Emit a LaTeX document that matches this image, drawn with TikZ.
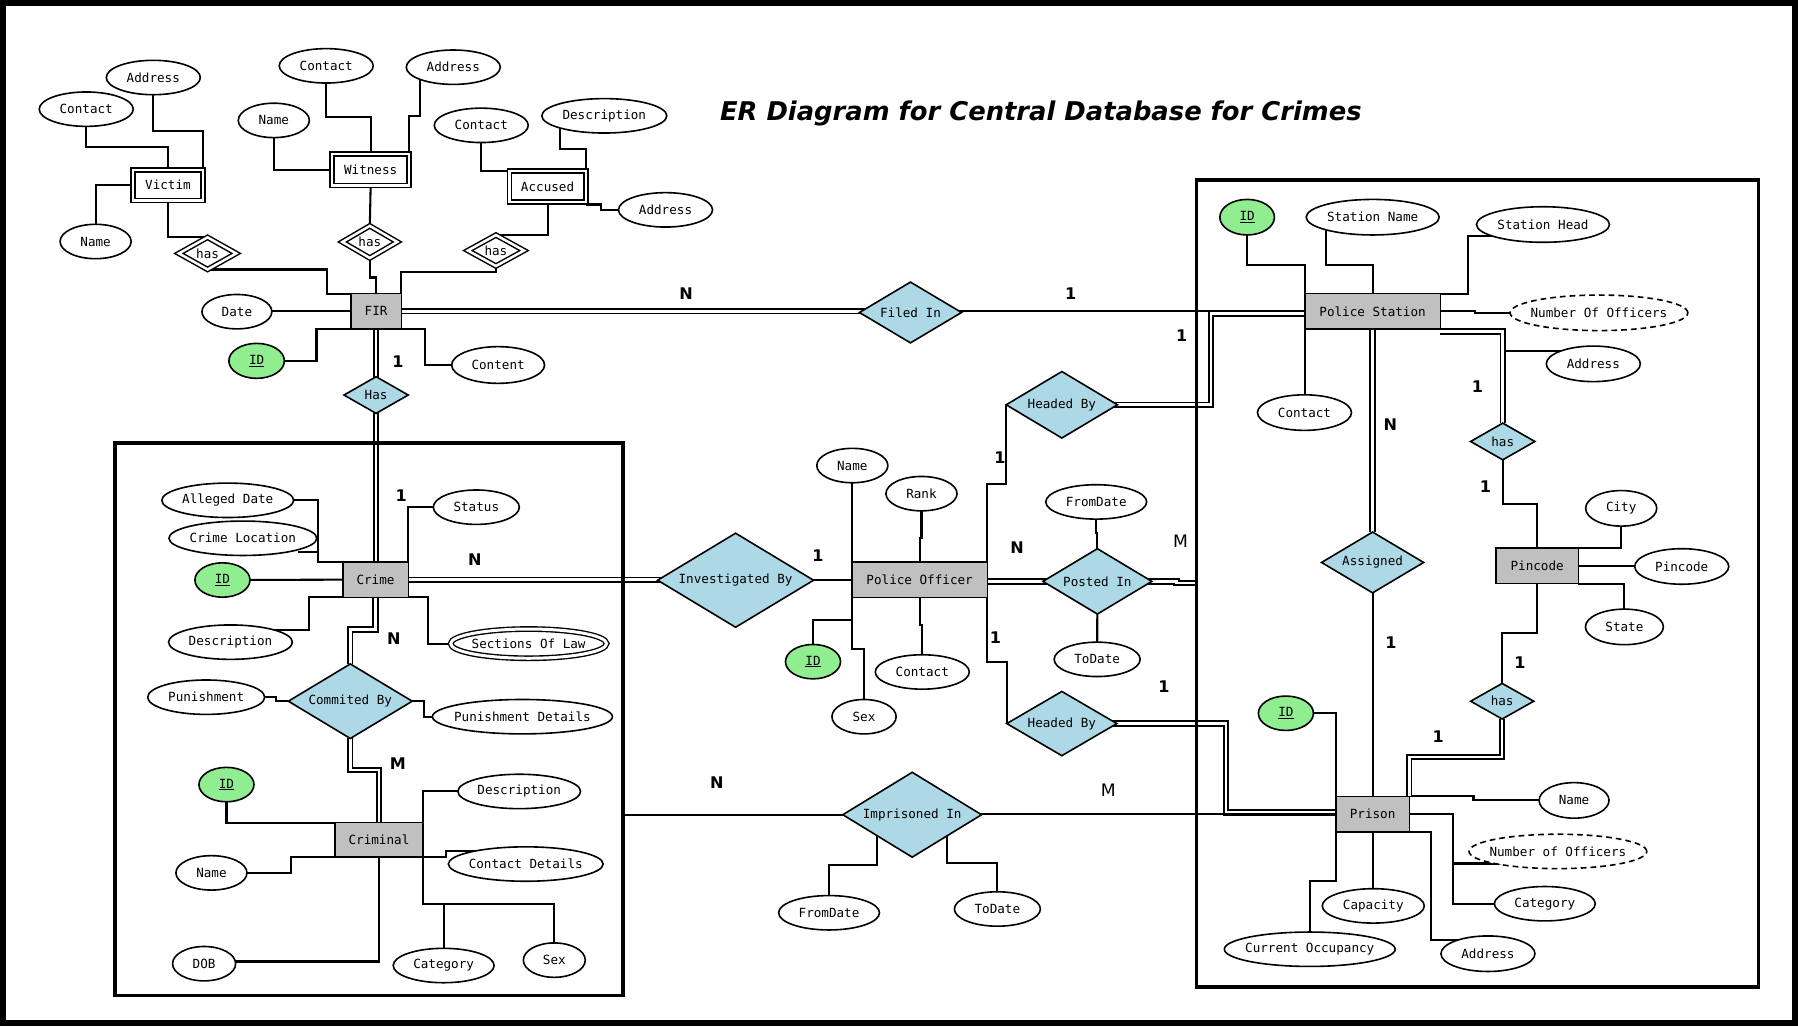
\documentclass[tikz,border=0pt]{standalone}
\usepackage{fontspec}
\setmainfont{DejaVu Sans}
\setsansfont{DejaVu Sans}
\setmonofont{DejaVu Sans Mono}
\usetikzlibrary{shapes.geometric,calc}
\pgfdeclarelayer{background}
\pgfsetlayers{background,main}
\definecolor{relblue}{HTML}{ADD8E6}
\definecolor{keygreen}{HTML}{90EE90}
\definecolor{entgray}{HTML}{C0C0C0}
\newcommand\T[1]{\makebox[0pt]{#1}}
\begin{document}
\begin{tikzpicture}[x=1pt,y=-1pt,
  every node/.style={inner sep=0pt, outer sep=0pt, font=\ttfamily\fontsize{11}{13}\selectfont},
  mw/.style={minimum width=#1pt},
  mh/.style={minimum height=#1pt},
  attr/.style={ellipse, draw, line width=1.4pt, fill=white, minimum height=30pt},
  keyattr/.style={attr, fill=keygreen},
  derattr/.style={attr, dash pattern=on 5pt off 3.5pt},
  multiattr/.style={attr, double, double distance=2.6pt, line width=1.2pt},
  ent/.style={rectangle, draw, line width=1.2pt, fill=entgray, minimum height=31pt},
  weakent/.style={rectangle, draw, double, fill=white, line width=1.3pt, double distance=2.2pt},
  rel/.style={diamond, draw, line width=1.4pt, fill=relblue},
  weakrel/.style={diamond, draw, double, fill=white, line width=1.3pt, double distance=2.2pt},
  card/.style={font=\sffamily\bfseries\fontsize{14}{16}\selectfont},
  cardm/.style={font=\sffamily\fontsize{15}{17}\selectfont},
  area/.style={rectangle, draw, line width=3.2pt},
  conn/.style={line width=1.8pt},
  dbl/.style={double, line width=1.6pt, double distance=2.3pt},
]
\useasboundingbox (0,0) rectangle (1568,895);
\begin{pgfonlayer}{background}
\fill[white] (0,0) rectangle (1568,895);
\end{pgfonlayer}
\draw[line width=5.5pt] (2.75,2.75) rectangle (1565.25,892.25);

% title
\node[font=\bfseries\itshape\fontsize{22.5}{26}\selectfont, anchor=base] (title) at (907.7,105) {ER Diagram for Central Database for Crimes};

% containers
\node[area, mw=443.5, mh=481.5] (crimearea) at (321.75,627.25) {};
\node[area, mw=490, mh=704] (psarea) at (1288.5,509) {};

% entities
\node[ent, mw=44] (fir) at (328,271.5) {FIR};
\node[ent, mw=57] (crime) at (327.5,505.5) {Crime};
\node[ent, mw=77, mh=30] (criminal) at (330.5,732.5) {Criminal};
\node[ent, mw=118] (po) at (802,505.5) {Police Officer};
\node[ent, mw=118] (ps) at (1197,271.5) {Police Station};
\node[ent, mw=72] (pincode) at (1340.5,493.5) {Pincode};
\node[ent, mw=64] (prison) at (1197,710) {Prison};

% weak entities
\node[weakent, mw=60.7, mh=26.7] (victim) at (146.5,161.5) {Victim};
\node[weakent, mw=67.2, mh=27.7] (witness) at (323.25,148) {Witness};
\node[weakent, mw=66.7, mh=27.2] (accused) at (477.5,162.75) {Accused};

% weak relationships
\node[weakrel, mw=50, mh=28] (hasV) at (181,221) {\T{has}};
\node[weakrel, mw=48, mh=28] (hasW) at (322.5,211) {\T{has}};
\node[weakrel, mw=49, mh=27] (hasA) at (432.5,218.5) {\T{has}};

% relationships
\node[rel, mw=56, mh=32] (has1) at (328,344.5) {\T{Has}};
\node[rel, mw=89, mh=53] (filed) at (794,272.5) {\T{Filed In}};
\node[rel, mw=97, mh=58] (hbUp) at (926,353) {\T{Headed By}};
\node[rel, mw=96, mh=56] (hbLo) at (926,631) {\T{Headed By}};
\node[rel, mw=136, mh=82] (invby) at (641.5,506) {\T{Investigated By}};
\node[rel, mw=95, mh=57] (posted) at (957,507) {\T{Posted In}};
\node[rel, mw=121, mh=74] (imprisoned) at (795.5,710.5) {\T{Imprisoned In}};
\node[rel, mw=108, mh=65] (commited) at (305.5,611.5) {\T{Commited By}};
\node[rel, mw=89, mh=53] (assigned) at (1197,490.5) {\T{Assigned}};
\node[rel, mw=56, mh=32] (hasP1) at (1310.5,385) {\T{has}};
\node[rel, mw=55, mh=31] (hasP2) at (1310,611.5) {\T{has}};

% attributes: victim, witness, accused
\node[attr, mw=82] (vAddr) at (133.7,67.6) {\T{Address}};
\node[attr, mw=82] (vContact) at (75.2,95.2) {\T{Contact}};
\node[attr, mw=62] (vName) at (83.4,210.6) {\T{Name}};
\node[attr, mw=82] (wContact) at (284.5,57.4) {\T{Contact}};
\node[attr, mw=82] (wAddr) at (395.3,58.6) {\T{Address}};
\node[attr, mw=62] (wName) at (238.8,105) {\T{Name}};
\node[attr, mw=82] (aContact) at (419.7,109.3) {\T{Contact}};
\node[attr, mw=109] (aDesc) at (527,101) {\T{Description}};
\node[attr, mw=82] (aAddr) at (580.4,183) {\T{Address}};
% FIR
\node[attr, mw=61] (fDate) at (206.6,271.8) {\T{Date}};
\node[keyattr, mw=48.4, mh=30.5] (fID) at (223.8,314.7) {\T{\underline{ID}}};
\node[attr, mw=81, mh=32] (fContent) at (434.4,318.3) {\T{Content}};
% police station
\node[keyattr, mw=47.6, mh=31] (psID) at (1087.6,189.4) {\T{\underline{ID}}};
\node[attr, mw=116, mh=31] (psName) at (1197.1,189.4) {\T{Station Name}};
\node[attr, mw=116, mh=31] (psHead) at (1345.6,195.8) {\T{Station Head}};
\node[derattr, mw=155, mh=31] (psNum) at (1394.4,272.8) {\T{Number Of Officers}};
\node[attr, mw=82, mh=31] (psAddr) at (1389.5,317.3) {\T{Address}};
\node[attr, mw=82, mh=31] (psContact) at (1137.6,359.8) {\T{Contact}};
% pincode
\node[attr, mw=62, mh=31] (city) at (1413.8,443.3) {\T{City}};
\node[attr, mw=82, mh=31] (pinAttr) at (1466.6,494) {\T{Pincode}};
\node[attr, mw=68, mh=31] (state) at (1416.6,546.7) {\T{State}};
% prison
\node[keyattr, mw=48] (prID) at (1121.4,622) {\T{\underline{ID}}};
\node[attr, mw=61, mh=31] (prName) at (1372.7,698) {\T{Name}};
\node[derattr, mw=155] (prNum) at (1358.6,742.5) {\T{Number of Officers}};
\node[attr, mw=88] (prCat) at (1347.2,788.1) {\T{Category}};
\node[attr, mw=82, mh=31] (prAddr) at (1297.6,831.7) {\T{Address}};
\node[attr, mw=89] (prCap) at (1197.6,790) {\T{Capacity}};
\node[attr, mw=149] (prOcc) at (1142.2,827.8) {\T{Current Occupancy}};
% posted in
\node[attr, mw=88] (pFrom) at (956,437.7) {\T{FromDate}};
\node[attr, mw=75] (pTo) at (956.8,575) {\T{ToDate}};
% police officer
\node[attr, mw=62] (poName) at (743.3,406) {\T{Name}};
\node[attr, mw=62] (poRank) at (803.6,430.5) {\T{Rank}};
\node[keyattr, mw=48] (poID) at (709,577) {\T{\underline{ID}}};
\node[attr, mw=56] (poSex) at (753.5,625) {\T{Sex}};
\node[attr, mw=82] (poContact) at (804.3,586) {\T{Contact}};
% imprisoned in
\node[attr, mw=88] (iFrom) at (723,796) {\T{FromDate}};
\node[attr, mw=75] (iTo) at (869.8,792.7) {\T{ToDate}};
% crime
\node[attr, mw=115] (cDate) at (198.6,436.3) {\T{Alleged Date}};
\node[attr, mw=129] (cLoc) at (211.8,469.4) {\T{Crime Location}};
\node[keyattr, mw=48] (cID) at (194,505.8) {\T{\underline{ID}}};
\node[attr, mw=108] (cDesc) at (201,560) {\T{Description}};
\node[attr, mw=75] (cStatus) at (415.4,442.3) {\T{Status}};
\node[multiattr, mw=136, mh=25.5] (cLaw) at (461,561.3) {\T{Sections Of Law}};
\node[attr, mw=102] (cPun) at (179.8,608) {\T{Punishment}};
\node[attr, mw=157] (cPunD) at (455.6,625) {\T{Punishment Details}};
% criminal
\node[keyattr, mw=48] (crID) at (197.5,684.2) {\T{\underline{ID}}};
\node[attr, mw=62] (crName) at (184.4,761.2) {\T{Name}};
\node[attr, mw=55] (crDOB) at (178,840.4) {\T{DOB}};
\node[attr, mw=107] (crDesc) at (452.8,690.2) {\T{Description}};
\node[attr, mw=135] (crCD) at (458.5,753.5) {\T{Contact Details}};
\node[attr, mw=88] (crCat) at (386.9,842) {\T{Category}};
\node[attr, mw=54] (crSex) at (483.4,837.3) {\T{Sex}};

% cardinalities
\node[card] (k1) at (347,315) {1};
\node[card] (k2) at (349.8,432.2) {1};
\node[card] (k3) at (598.4,255.8) {N};
\node[card] (k4) at (933.7,255.8) {1};
\node[card] (k5) at (1030.5,293) {1};
\node[card] (k6) at (872,399) {1};
\node[card] (k7) at (713.3,484.5) {1};
\node[card] (k8) at (414,488) {N};
\node[card] (k9) at (886.9,477.4) {N};
\node[cardm] (k10) at (1029.5,472) {M};
\node[card] (k11) at (868.2,555.9) {1};
\node[card] (k12) at (1015,598.8) {1};
\node[card] (k13) at (625.2,682.7) {N};
\node[cardm] (k14) at (966.5,689.2) {M};
\node[card] (k15) at (343.5,557.3) {N};
\node[card] (k16) at (347,666) {M};
\node[card] (k17) at (1288.4,337.2) {1};
\node[card] (k18) at (1212.5,370.3) {N};
\node[card] (k19) at (1295.5,424) {1};
\node[card] (k20) at (1213,560.2) {1};
\node[card] (k21) at (1325.4,577.5) {1};
\node[card] (k22) at (1254.2,642.4) {1};

\coordinate (jNum) at (1267,753);
\coordinate (jPo) at (743,540.4);

\begin{pgfonlayer}{background}
% ---- single connectors
\draw[conn] (vAddr.center) -- (vAddr.center |- 0,114) -| (victim.north east);
\draw[conn] (vContact.center) -- (vContact.center |- 0,128) -| (victim.north);
\draw[conn] (vName.center) |- (victim.west);
\draw[conn] (victim.south) |- (hasV.north);
\draw[conn] (hasV.south) -| (285,256) -- (fir.north west);
\draw[conn] (wContact.center) -- (wContact.center |- 0,102) -| (witness.north);
\draw[conn] (wAddr.center -| 366,0) -- (366,101) -| (witness.north east);
\draw[conn] (wName.center) |- (witness.west);
\draw[conn] (witness.south) -- (hasW.north);
\draw[conn] (hasW.south) -- (hasW.south |- 0,242) -| (fir.north);
\draw[conn] (aContact.center) |- (accused.north west);
\draw[conn] (aDesc.center -| 488,0) -- (488,130) -| (accused.north east);
\draw[conn] ([yshift=-2pt]accused.south east) -| (524,183) -- (aAddr.center);
\draw[conn] (accused.south) |- (hasA.north);
\draw[conn] (hasA.south) -- (hasA.south |- 0,237) -| (fir.north east);
\draw[conn] (fDate.center |- fir.west) -- (fir.west);
\draw[conn] (fID.center) -| (276,287) -- (fir.south west);
\draw[conn] (fir.south east) -- (371,287) |- (fContent.center);
\draw[conn] (psID.center) -- (psID.center |- 0,231) -| (ps.north west);
\draw[conn] (psName.center -| 1156,0) -- (1156,231) -| (ps.north);
\draw[conn] (psHead.center |- 0,206) -- (1280,206) -- (1280,256) -- (ps.north east);
\draw[conn] (ps.east) -- (1286,271.5) -- (1286,272.8) -- (psNum.center);
\draw[conn] (hasP1.north |- 0,306) -- (psAddr.center |- 0,306);
\draw[conn] (ps.south west) -- (ps.south west |- psContact.center);
\draw[conn] (assigned.south) -- (prison.north);
\draw[conn] (hasP1.south) -- (hasP1.south |- 0,439.5) -| (pincode.north);
\draw[conn] (city.center) |- (pincode.north east);
\draw[conn] (pincode.east) -- (pinAttr.center |- pincode.east);
\draw[conn] (pincode.south east) -| (state.center);
\draw[conn] (pincode.south) -- (pincode.south |- 0,552) -| (hasP2.north);
\draw[conn] (prID.center) -| (prison.north west);
\draw[conn] (prison.north east) -- (1285,694.5) -- (1285,698) -- (prName.center);
\draw[conn] (prison.east) -- (1267,710) -- (1267,788.1) -- (prCat.center);
\draw[conn] (jNum) -- (prNum.center |- jNum);
\draw[conn] (prison.south east) -| (1248,820) -- (prAddr.center |- 0,820);
\draw[conn] (prison.south) -- (prison.south |- prCap.center);
\draw[conn] (prison.south west) -- (prison.south west |- 0,768.5) -| (prOcc.center);
\draw[conn] (imprisoned.center) -- (crimearea.east |- imprisoned.center);
\draw[conn] (imprisoned.center -| 765,0) -- (765,754) -| (iFrom.center);
\draw[conn] (imprisoned.center -| 825.6,0) -- (825.6,752.3) -| (iTo.center);
\draw[conn] (invby.center |- po.west) -- (po.west);
\draw[conn] (poName.center) -- (poName.center |- po.north);
\draw[conn] (poRank.center) -- (poRank.center |- 0,469) -| (po.north);
\draw[conn] (po.south west) -- (jPo) -| (poID.center);
\draw[conn] (jPo) -- (743,565.6) -| (poSex.center);
\draw[conn] (po.south) -- (po.south |- 0,545) -| (poContact.center);
\draw[conn] (po.north east) -- (po.north east |- 0,422.3) -| (hbUp.west);
\draw[conn] (po.south east) -- (po.south east |- 0,577.5) -| (hbLo.west);
\draw[conn] (posted.center) -- (posted.center |- 0,465) -| (pFrom.center);
\draw[conn] (posted.center) -- (pTo.center);
\draw[conn] (cDate.center) -| (277,490) -- (crime.north west);
\draw[conn] ($(cLoc.center)+(48,11.8)$) -- (277,481.2);
\draw[conn] (cID.center) -- (crime.west);
\draw[conn] (cDesc.center -| 240,0) |- (269.5,549) -- (269.5,521) -- (crime.south west);
\draw[conn] (cStatus.center) -| (crime.north east);
\draw[conn] (crime.south east) -| (373,561.3) -- (cLaw.center);
\draw[conn] (cPun.center) -- (240.3,608) -- (240.3,611.5) -- (commited.west);
\draw[conn] (commited.east) -- (370,611.5) -- (370,625) -- (cPunD.center);
\draw[conn] (crID.center) |- (criminal.north west);
\draw[conn] (crName.center) -- (253.6,761.2) -- (253.6,747.5) -- (criminal.south west);
\draw[conn] (crDOB.center |- 0,838.5) -| (criminal.south);
\draw[conn] (crDesc.center) -| (criminal.north east);
\draw[conn] (criminal.south east) -- (389,747.5) -- (389,742) -- (crCD.center |- 0,742);
\draw[conn] (criminal.south east) -- (criminal.south east |- 0,788.3) -| (crSex.center);
\draw[conn] (crCat.center) -- (crCat.center |- 0,788.3);
% ---- double connectors
\draw[dbl] (fir.south) -- (has1.north);
\draw[dbl] (has1.south) -- (has1.south |- crime.north);
\draw[dbl] (fir.east) -- (filed.center |- fir.east);
\draw[dbl] (hbUp.center) -| (1056,273.5) -- (ps.west |- 0,273.5);
\draw[dbl] (hbLo.center) -| (1069,708.5) -- (prison.west |- 0,708.5);
\draw[dbl] (crime.east) -- (invby.center |- crime.east);
\draw[dbl] (po.east |- posted.center) -- (posted.center);
\draw[dbl] (posted.center) -- (1026,507) -- (1026,508.5) -- (psarea.west |- 0,508.5);
\draw[dbl] (crime.south) -- (crime.south |- 0,549) -| (commited.north);
\draw[dbl] (commited.south) -- (commited.south |- 0,671.6) -| (criminal.north);
\draw[dbl] ([yshift=-2pt]ps.south east) -| (hasP1.north);
\draw[dbl] (ps.south) -- (assigned.north);
\draw[dbl] (hasP2.south) -- (hasP2.south |- 0,660) -| (prison.north east);
% ---- single lines lying over double lines
\draw[conn] (filed.center |- ps.west) -- (ps.west);
\draw[conn] (imprisoned.center |- prison.west) -- (prison.west);
\end{pgfonlayer}
\end{tikzpicture}
\end{document}
